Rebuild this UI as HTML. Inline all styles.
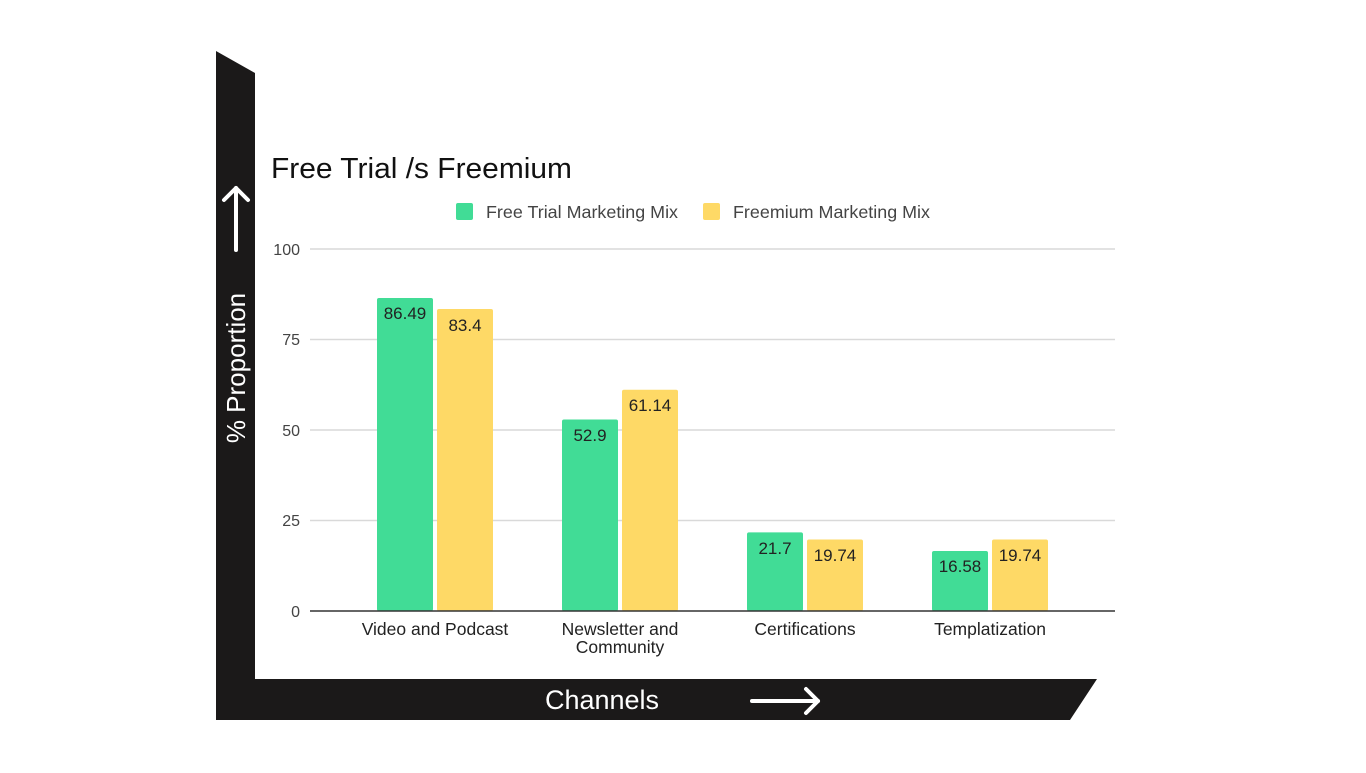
<!DOCTYPE html>
<html><head><style>
body{margin:0;background:#fff;width:1366px;height:768px;overflow:hidden;font-family:"Liberation Sans",sans-serif;}
</style></head><body>
<svg width="1366" height="768" xmlns="http://www.w3.org/2000/svg" font-family="Liberation Sans, sans-serif">
<rect width="1366" height="768" fill="#fff"/>
<polygon points="216,51 255,73 255,679 1097,679 1070,720 216,720" fill="#1b1919"/>
<text x="271" y="178" font-size="29" fill="#111" textLength="301" lengthAdjust="spacingAndGlyphs">Free Trial /s Freemium</text>
<rect x="456" y="203" width="17" height="17" rx="2" fill="#41dc96"/>
<text x="486" y="218" font-size="17.5" fill="#444" textLength="192" lengthAdjust="spacingAndGlyphs">Free Trial Marketing Mix</text>
<rect x="703" y="203" width="17" height="17" rx="2" fill="#fed966"/>
<text x="733" y="218" font-size="17.5" fill="#444" textLength="197" lengthAdjust="spacingAndGlyphs">Freemium Marketing Mix</text>
<g stroke="#d9d9d9" stroke-width="1.5">
<line x1="310" y1="249" x2="1115" y2="249"/><line x1="310" y1="339.5" x2="1115" y2="339.5"/>
<line x1="310" y1="430" x2="1115" y2="430"/><line x1="310" y1="520.5" x2="1115" y2="520.5"/>
</g>
<g font-size="16" fill="#444" text-anchor="end">
<text x="300" y="255">100</text><text x="300" y="345">75</text><text x="300" y="436">50</text><text x="300" y="526">25</text><text x="300" y="617">0</text>
</g>
<g>
<rect x="377" y="298" width="56" height="313" rx="2" fill="#41dc96"/>
<rect x="437" y="309" width="56" height="302" rx="2" fill="#fed966"/>
<rect x="562" y="419.5" width="56" height="191.5" rx="2" fill="#41dc96"/>
<rect x="622" y="389.7" width="56" height="221.3" rx="2" fill="#fed966"/>
<rect x="747" y="532.4" width="56" height="78.6" rx="2" fill="#41dc96"/>
<rect x="807" y="539.5" width="56" height="71.5" rx="2" fill="#fed966"/>
<rect x="932" y="551" width="56" height="60" rx="2" fill="#41dc96"/>
<rect x="992" y="539.5" width="56" height="71.5" rx="2" fill="#fed966"/>
</g>
<g font-size="17" fill="#222" text-anchor="middle">
<text x="405" y="319">86.49</text><text x="465" y="331">83.4</text>
<text x="590" y="441">52.9</text><text x="650" y="411">61.14</text>
<text x="775" y="554">21.7</text><text x="835" y="561">19.74</text>
<text x="960" y="572">16.58</text><text x="1020" y="561">19.74</text>
</g>
<line x1="310" y1="611" x2="1115" y2="611" stroke="#333" stroke-width="1.5"/>
<g font-size="17.5" fill="#222" text-anchor="middle">
<text x="435" y="635">Video and Podcast</text>
<text x="620" y="635">Newsletter and</text><text x="620" y="653">Community</text>
<text x="805" y="635">Certifications</text>
<text x="990" y="635">Templatization</text>
</g>
<text x="602" y="709" font-size="27" fill="#fff" text-anchor="middle">Channels</text>
<g stroke="#fff" stroke-width="4" fill="none" stroke-linecap="round" stroke-linejoin="round">
<line x1="752" y1="701" x2="818" y2="701"/><polyline points="806,689 818,701 806,713"/>
<line x1="236" y1="250" x2="236" y2="188"/><polyline points="224,200 236,188 248,200"/>
</g>
<text transform="translate(245,368) rotate(-90)" font-size="26" fill="#fff" text-anchor="middle">% Proportion</text>
</svg>
</body></html>
